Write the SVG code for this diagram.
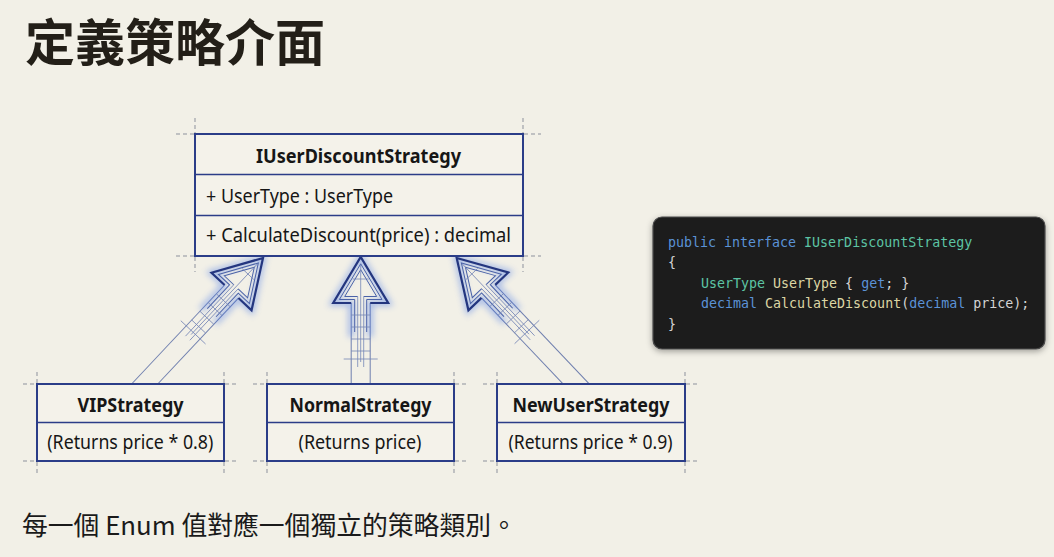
<svg xmlns="http://www.w3.org/2000/svg" width="1054" height="557" viewBox="0 0 1054 557">
<style>
.box{fill:#f4f2ea;stroke:#2b3d88;stroke-width:2}
.div{stroke:#2b3d88;stroke-width:1.6}
.ext{stroke:#8d919c;stroke-width:1;stroke-dasharray:4 3;fill:none}
.t{font-family:"Noto Sans","Liberation Sans",sans-serif;fill:#161616}
.b{font-weight:700;font-size:19.5px}
.r{font-size:19px}
.head{fill:none;stroke:#24367f;stroke-width:2.2;stroke-linejoin:miter}
.glow{fill:none;stroke:#3d6fe6;stroke-width:6;opacity:.42}
.in{fill:none;stroke:#4a62a8;stroke-width:1}
.fine{fill:none;stroke:#7585b5;stroke-width:.8}
.shaft{stroke:#6f7fae;stroke-width:1}
.code{font-family:"DejaVu Sans Mono","Liberation Mono",monospace;font-size:13.3px;fill:#d4d4d4}
.kw{fill:#5b92d6}.ty{fill:#5cc4a4}.fn{fill:#dcd6a4}
</style>
<defs>
<filter id="blur" x="-50%" y="-50%" width="200%" height="200%"><feGaussianBlur stdDeviation="3"/></filter>
<filter id="shadow" x="-10%" y="-10%" width="120%" height="130%"><feDropShadow dx="0" dy="2" stdDeviation="3" flood-color="#000" flood-opacity="0.35"/></filter>
<g id="ahead">
<path class="glow" filter="url(#blur)" d="M-9.5,80 L-9.5,46 L-27.5,46 L0,0 L27.5,46 L9.5,46 L9.5,80"/>
<path class="in" d="M-6,75 L-6,42.5 L-21.3,42.5 L0,6.8 L21.3,42.5 L6,42.5 L6,75"/>
<path class="in" d="M-3,39.5 L-16,39.5 L0,12.7 L16,39.5 L3,39.5"/>
<path class="fine" d="M0,8 L0,105 M-8,22 L8,22 M-9.5,58 L9.5,58 M-9.5,70 L9.5,70 M-9.5,82 L9.5,82 M-9.5,94 L9.5,94 M-17,102 L17,102 M-3,39.5 L-3,110 M3,39.5 L3,110"/>
<path class="head" d="M-9.5,46 L-27.5,46 L0,0 L27.5,46 L9.5,46"/>
</g>
</defs>
<rect width="1054" height="557" fill="#f2f0e7"/>
<text x="25" y="61" font-family="Noto Sans CJK TC,Noto Sans CJK SC,sans-serif" font-size="50" font-weight="700" fill="#231f18">定義策略介面</text>

<g id="connectors">
<g id="edge-vip" transform="translate(263,258) rotate(43.2)">
<line class="shaft" x1="-9.5" y1="46" x2="-9.5" y2="181.8"/>
<line class="shaft" x1="9.5" y1="46" x2="9.5" y2="163.9"/>
<use href="#ahead"/>
</g>
<g id="edge-normal" transform="translate(360.7,257)">
<line class="shaft" x1="-9.5" y1="46" x2="-9.5" y2="127"/>
<line class="shaft" x1="9.5" y1="46" x2="9.5" y2="127"/>
<use href="#ahead"/>
</g>
<g id="edge-newuser" transform="translate(456.7,258) rotate(-43.5)">
<line class="shaft" x1="-9.5" y1="46" x2="-9.5" y2="164.8"/>
<line class="shaft" x1="9.5" y1="46" x2="9.5" y2="182.8"/>
<use href="#ahead"/>
</g>
</g>

<g id="node-interface">
<path class="ext" d="M176,134H194M524,134H541M176,256H194M524,256H541M195,118V133M523,118V133M195,257V272M523,257V272"/>
<rect class="box" x="195" y="134" width="328" height="122"/>
<line class="div" x1="195" y1="174.5" x2="523" y2="174.5"/>
<line class="div" x1="195" y1="215.5" x2="523" y2="215.5"/>
<text class="t b" x="358.5" y="163" text-anchor="middle" textLength="205" lengthAdjust="spacingAndGlyphs">IUserDiscountStrategy</text>
<text class="t r" x="206" y="203" textLength="187" lengthAdjust="spacingAndGlyphs">+ UserType : UserType</text>
<text class="t r" x="206" y="242" textLength="305" lengthAdjust="spacingAndGlyphs">+ CalculateDiscount(price) : decimal</text>
</g>

<g id="node-vip">
<path class="ext" d="M23,384H36M225,384H238M23,461H36M225,461H238M37,372V383M224,372V383M37,462V476M224,462V476"/>
<rect class="box" x="37" y="384" width="187" height="77"/>
<line class="div" x1="37" y1="422.5" x2="224" y2="422.5"/>
<text class="t b" x="130.5" y="411.5" text-anchor="middle" textLength="106" lengthAdjust="spacingAndGlyphs">VIPStrategy</text>
<text class="t r" x="130.3" y="449" text-anchor="middle" textLength="166" lengthAdjust="spacingAndGlyphs">(Returns price * 0.8)</text>
</g>

<g id="node-normal">
<path class="ext" d="M253,384H266M455,384H468M253,461H266M455,461H468M267,372V383M454,372V383M267,462V476M454,462V476"/>
<rect class="box" x="267" y="384" width="187" height="77"/>
<line class="div" x1="267" y1="422.5" x2="454" y2="422.5"/>
<text class="t b" x="360.5" y="411.5" text-anchor="middle" textLength="142" lengthAdjust="spacingAndGlyphs">NormalStrategy</text>
<text class="t r" x="360" y="449" text-anchor="middle" textLength="123" lengthAdjust="spacingAndGlyphs">(Returns price)</text>
</g>

<g id="node-newuser">
<path class="ext" d="M483,384H496M686,384H699M483,461H496M686,461H699M497,372V383M685,372V383M497,462V476M685,462V476"/>
<rect class="box" x="497" y="384" width="188" height="77"/>
<line class="div" x1="497" y1="422.5" x2="685" y2="422.5"/>
<text class="t b" x="591" y="411.5" text-anchor="middle" textLength="157" lengthAdjust="spacingAndGlyphs">NewUserStrategy</text>
<text class="t r" x="590.5" y="449" text-anchor="middle" textLength="164" lengthAdjust="spacingAndGlyphs">(Returns price * 0.9)</text>
</g>

<g id="code-panel">
<rect x="653" y="217" width="392" height="132" rx="9" fill="#1e1e1e" stroke="#4a4a4a" stroke-width="1.2" filter="url(#shadow)"/>
<text class="code" xml:space="preserve"><tspan x="668" y="246.5"><tspan class="kw">public interface </tspan><tspan class="ty">IUserDiscountStrategy</tspan></tspan><tspan x="668" y="267">{</tspan><tspan x="701" y="287.5"><tspan class="ty">UserType </tspan><tspan class="fn">UserType</tspan> { <tspan class="kw">get</tspan>; }</tspan><tspan x="701" y="308"><tspan class="kw">decimal </tspan><tspan class="fn">CalculateDiscount</tspan>(<tspan class="kw">decimal</tspan> price);</tspan><tspan x="668" y="328.5">}</tspan></text>
</g>

<text x="22" y="535" font-family="Noto Sans CJK TC,Noto Sans CJK SC,sans-serif" font-size="25.8" fill="#1a1a1a">每一個 Enum 值對應一個獨立的策略類別。</text>
</svg>
